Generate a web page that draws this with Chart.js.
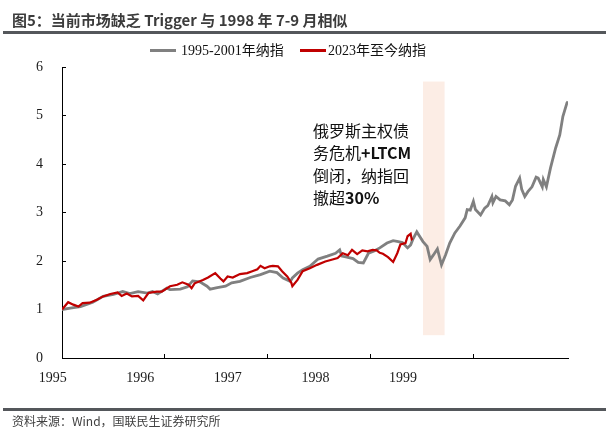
<!DOCTYPE html>
<html>
<head>
<meta charset="utf-8">
<script src="https://cdn.jsdelivr.net/npm/chart.js@4.4.1/dist/chart.umd.min.js"></script>
<style>
  body { margin:0; background:#fff; }
  #wrap { position:relative; width:614px; height:432px; overflow:hidden; font-family:"Noto Sans CJK SC", sans-serif; }
  #chart { position:absolute; left:0; top:0; }
  .title { position:absolute; left:12px; top:10px; line-height:20px; font-size:15px; font-weight:bold; color:#3c3c3c; white-space:nowrap; }
  .rule { position:absolute; left:3px; width:603px; height:3px; background:#54575b; }
  .legend { position:absolute; top:42px; line-height:18px; font-family:"Liberation Serif","Noto Sans CJK SC",serif; font-size:14px; color:#111; white-space:nowrap; }
  .swatch { display:inline-block; width:26px; height:3px; vertical-align:middle; margin-right:5px; position:relative; top:-1px; }
  .note { position:absolute; left:313px; top:119px; font-size:16px; line-height:22.3px; color:#111; white-space:nowrap; }
  .source { position:absolute; left:12px; top:413px; font-size:12px; line-height:16px; color:#404040; white-space:nowrap; }
</style>
</head>
<body>
<div id="wrap">
  <canvas id="chart" width="614" height="432"></canvas>
  <div class="title">图5：当前市场缺乏 Trigger 与 1998 年 7-9 月相似</div>
  <div class="rule" style="top:31px;"></div>
  <div class="legend" style="left:150px;"><span class="swatch" style="background:#808080;"></span>1995-2001年纳指</div>
  <div class="legend" style="left:300px;"><span class="swatch" style="background:#c00000;width:26px;margin-right:2px;"></span>2023年至今纳指</div>
  <div class="note">俄罗斯主权债<br>务危机<b>+LTCM</b><br>倒闭，纳指回<br>撤超<b>30%</b></div>
  <div class="rule" style="top:408px;"></div>
  <div class="source">资料来源：Wind，国联民生证券研究所</div>
</div>
<script>
// ============ 数据（按年份小数对齐，起点归一为1） ============
const GRAY_X = [1995.00,1995.08,1995.18,1995.30,1995.40,1995.50,1995.59,1995.66,1995.74,1995.83,1995.88,1995.93,
  1996.02,1996.05,1996.15,1996.22,1996.27,1996.34,1996.41,1996.44,1996.51,1996.59,1996.65,1996.73,1996.83,1996.93,
  1997.02,1997.09,1997.15,1997.22,1997.24,1997.29,1997.34,1997.41,1997.49,1997.58,1997.66,1997.70,1997.72,1997.77,1997.83,1997.88,1997.93,1997.98,
  1998.03,1998.09,1998.16,1998.22,1998.27,1998.31,1998.36,1998.39,1998.41,1998.45,1998.48,1998.51,1998.55,1998.58,1998.61,1998.65,1998.69,1998.73,1998.77,1998.82,1998.87,1998.92,1998.94,1998.97,
  1999.00,1999.02,1999.07,1999.11,1999.14,1999.18,1999.19,1999.22,1999.26,1999.31,1999.35,1999.38,1999.41,1999.45,1999.47,1999.50,1999.53,1999.57,1999.61,1999.63,1999.67,1999.68,1999.71,1999.75,1999.80,1999.84,1999.87,1999.91,1999.92];
const GRAY_Y = [1.00,1.03,1.06,1.15,1.27,1.31,1.37,1.33,1.37,1.34,1.37,1.32,
  1.44,1.41,1.42,1.47,1.59,1.57,1.48,1.42,1.45,1.48,1.55,1.58,1.66,1.72,
  1.79,1.76,1.65,1.58,1.65,1.75,1.82,1.89,2.04,2.10,2.16,2.23,2.10,2.08,2.05,1.97,1.96,2.16,
  2.20,2.27,2.37,2.42,2.40,2.38,2.27,2.33,2.44,2.60,2.50,2.40,2.30,2.03,2.12,2.25,1.92,2.13,2.37,2.58,2.72,2.89,3.06,3.05,
  3.23,3.06,2.95,3.09,3.14,3.33,3.20,3.33,3.26,3.24,3.16,3.26,3.54,3.71,3.48,3.33,3.43,3.53,3.73,3.71,3.53,3.68,3.53,3.92,4.33,4.60,4.98,5.26,5.29];

const RED_X = [1995.00,1995.06,1995.11,1995.16,1995.20,1995.27,1995.34,1995.40,1995.47,1995.54,1995.58,1995.63,1995.68,1995.74,1995.79,1995.84,1995.92,1995.97,
  1996.05,1996.12,1996.17,1996.23,1996.26,1996.29,1996.37,1996.42,1996.49,1996.54,1996.57,1996.61,1996.66,1996.73,1996.80,1996.85,1996.90,1996.93,1996.97,
  1997.02,1997.05,1997.10,1997.14,1997.19,1997.23,1997.24,1997.29,1997.34,1997.41,1997.48,1997.56,1997.63,1997.68,1997.73,1997.78,1997.82,1997.87,1997.92,1997.97,
  1998.02,1998.06,1998.09,1998.12,1998.17,1998.22,1998.26,1998.29,1998.34,1998.36,1998.39,1998.40,1998.41];
const RED_Y = [1.00,1.15,1.10,1.06,1.13,1.14,1.20,1.27,1.32,1.35,1.28,1.33,1.27,1.28,1.19,1.34,1.37,1.37,
  1.48,1.51,1.56,1.51,1.44,1.54,1.61,1.66,1.75,1.64,1.58,1.68,1.66,1.73,1.75,1.79,1.83,1.90,1.85,
  1.89,1.90,1.89,1.79,1.68,1.55,1.48,1.61,1.79,1.85,1.92,1.99,2.03,2.06,2.16,2.12,2.23,2.14,2.22,2.20,
  2.23,2.22,2.17,2.15,2.08,1.98,2.16,2.34,2.37,2.51,2.56,2.45,2.47];

const X_TICKS = [1995, 1996, 1997, 1998, 1999];
const Y_TICKS = [0, 1, 2, 3, 4, 5, 6];
// 1998年7-9月阴影区
const SHADE_X = [1998.51, 1998.72];
const SHADE_Y = [0.47, 5.70];

const toPts = (xs, ys) => xs.map((x, i) => ({x: x, y: ys[i]}));

const shadePlugin = {
  id: 'shade',
  beforeDatasetsDraw(chart) {
    const {ctx, scales: {x, y}} = chart;
    const x0 = x.getPixelForValue(SHADE_X[0]), x1 = x.getPixelForValue(SHADE_X[1]);
    const y0 = y.getPixelForValue(SHADE_Y[1]), y1 = y.getPixelForValue(SHADE_Y[0]);
    ctx.save();
    ctx.fillStyle = '#fcede5';
    ctx.fillRect(x0, y0, x1 - x0, y1 - y0);
    ctx.restore();
  }
};

const tickFont = {family: '"Liberation Serif", serif', size: 14};

new Chart(document.getElementById('chart'), {
  type: 'line',
  data: {
    datasets: [
      {label: '2023年至今纳指', data: toPts(RED_X, RED_Y), borderColor: '#c00000', borderWidth: 2.2, pointRadius: 0, tension: 0, order: 0},
      {label: '1995-2001年纳指', data: toPts(GRAY_X, GRAY_Y), borderColor: '#808080', borderWidth: 2.8, pointRadius: 0, tension: 0, order: 1}
    ]
  },
  options: {
    responsive: false,
    animation: false,
    layout: {padding: {top: 67, right: 46, left: 0, bottom: 0}},
    plugins: {legend: {display: false}, tooltip: {enabled: false}},
    scales: {
      x: {
        type: 'linear', position: 'bottom', min: 1995, max: 1999.92, weight: 0,
        afterBuildTicks: s => { s.ticks = X_TICKS.map(v => ({value: v})); },
        afterFit: s => { s.height = 0; },
        ticks: {display: false},
        grid: {drawOnChartArea: false, tickLength: -4, color: '#000', lineWidth: 1},
        border: {color: '#000', width: 1}
      },
      // 年份标签（与刻度错位，同原图）
      xl: {
        type: 'linear', position: 'bottom', min: 1995.106, max: 2000.884, weight: 1,
        afterBuildTicks: s => { s.ticks = X_TICKS.map(v => ({value: v})); },
        afterFit: s => { s.height = 74; },
        ticks: {autoSkip: false, maxRotation: 0, padding: 12, color: '#1a1a1a', font: tickFont, callback: v => String(v)},
        grid: {display: false, drawTicks: false},
        border: {display: false}
      },
      y: {
        min: 0, max: 6,
        afterBuildTicks: s => { s.ticks = Y_TICKS.map(v => ({value: v})); },
        afterFit: s => { s.width = 62; },
        ticks: {padding: 23, color: '#1a1a1a', font: tickFont, callback: v => String(v)},
        grid: {drawOnChartArea: false, tickLength: -4, color: '#000', lineWidth: 1},
        border: {color: '#000', width: 1}
      }
    }
  },
  plugins: [shadePlugin]
});
</script>
</body>
</html>
